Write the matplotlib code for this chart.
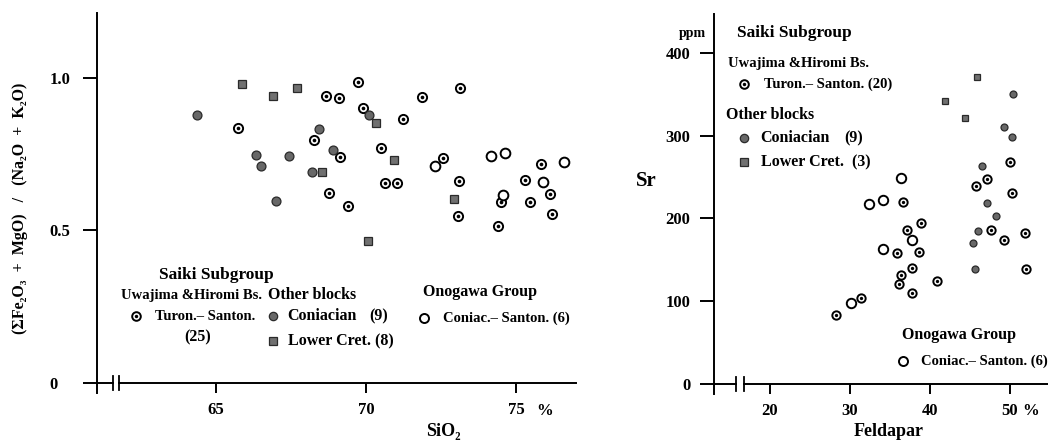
import matplotlib
matplotlib.use("Agg")
import matplotlib.pyplot as plt

plt.rcParams['font.family'] = ['Liberation Serif', 'DejaVu Serif']
plt.rcParams['font.weight'] = 'bold'

# ---- left diagram: SiO2 vs (FeO*+MgO)/(Na2O+K2O)
turon_sio2 = [65.74, 68.27, 68.67, 69.10, 69.74, 69.91, 69.13, 68.77, 69.41, 71.24,
              70.49, 70.63, 71.04, 71.86, 73.13, 72.56, 73.11, 73.06, 74.49, 74.41,
              75.30, 75.47, 75.82, 76.13, 76.19]
turon_ratio = [0.837, 0.797, 0.942, 0.934, 0.987, 0.903, 0.742, 0.623, 0.579, 0.866,
               0.769, 0.655, 0.655, 0.936, 0.968, 0.736, 0.661, 0.548, 0.592, 0.515,
               0.664, 0.594, 0.719, 0.620, 0.554]
coni_sio2 = [64.36, 66.32, 66.50, 67.44, 67.00, 68.44, 68.21, 68.89, 70.10]
coni_ratio = [0.878, 0.748, 0.713, 0.744, 0.598, 0.833, 0.691, 0.764, 0.879]
lower_sio2 = [65.88, 66.89, 67.69, 70.32, 68.52, 70.93, 72.94, 70.06]
lower_ratio = [0.979, 0.942, 0.966, 0.851, 0.691, 0.730, 0.602, 0.467]
onog_sio2 = [72.29, 74.16, 74.63, 74.56, 76.60, 75.91]
onog_ratio = [0.711, 0.744, 0.753, 0.615, 0.723, 0.658]

# ---- right diagram: Feldspar vs Sr
turon_fel = [50.0, 47.08, 45.71, 50.21, 47.67, 49.25, 51.88, 52.04, 36.63, 38.83,
             37.17, 38.67, 35.92, 37.79, 36.33, 36.08, 37.75, 40.92, 31.42, 28.21]
turon_sr = [268.7, 248.0, 238.8, 230.4, 186.1, 174.0, 182.0, 139.4, 219.9, 195.0,
            186.1, 159.5, 157.9, 140.6, 132.1, 120.8, 109.6, 124.8, 104.3, 83.8]
coni_fel = [50.33, 49.25, 50.29, 46.54, 47.08, 48.29, 46.00, 45.33, 45.63]
coni_sr = [350.5, 311.0, 298.0, 263.4, 219.0, 203.0, 185.3, 170.0, 138.6]
lower_fel = [45.92, 41.83, 44.38]
lower_sr = [371.4, 341.6, 321.5]
onog_fel = [36.33, 34.17, 32.38, 37.71, 34.13, 30.17]
onog_sr = [249.3, 222.7, 217.5, 174.0, 162.8, 97.5]

W, H = 1048, 442
fig = plt.figure(figsize=(W / 100, H / 100), dpi=100)


def fpos(x, y):
    return x / W, 1 - y / H


def ftext(x, y, s, size=11.5, ha='left', **kw):
    fx, fy = fpos(x, y)
    fig.text(fx, fy, s, fontsize=size, ha=ha, va='center', **kw)


def turon(ax, x, y, ms, **kw):
    ax.plot(x, y, 'o', ms=ms, mfc='white', mec='black', mew=1.4, ls='none', **kw)
    ax.plot(x, y, 'o', ms=ms * 0.4, mfc='black', mec='black', mew=0, ls='none', **kw)


def coni(ax, x, y, ms, **kw):
    ax.plot(x, y, 'o', ms=ms, mfc='#686868', mec='#2a2a2a', mew=0.9, ls='none', **kw)


def lower(ax, x, y, ms, **kw):
    ax.plot(x, y, 's', ms=ms, mfc='#707070', mec='#2a2a2a', mew=0.9, ls='none', **kw)


def onog(ax, x, y, ms, **kw):
    ax.plot(x, y, 'o', ms=ms, mfc='white', mec='black', mew=1.4, ls='none', **kw)


def setup(ax, xlim, ylim, brk, xticks, yticks, ylabels, ypad):
    ax.set_xlim(*xlim)
    ax.set_ylim(*ylim)
    for s in ['top', 'right']:
        ax.spines[s].set_visible(False)
    ax.spines['left'].set_linewidth(1.4)
    ax.spines['bottom'].set_linewidth(1.4)
    ax.spines['bottom'].set_position(('data', 0))
    ax.spines['bottom'].set_bounds(brk[1], xlim[1])
    ax.plot([xlim[0], brk[0]], [0, 0], color='black', lw=1.4, clip_on=False)
    h = (ylim[1] - ylim[0]) * 0.018
    for b in brk:
        ax.plot([b, b], [-h, h], color='black', lw=1.3, clip_on=False)
    ax.set_xticks(xticks)
    ax.set_yticks(yticks)
    ax.set_yticklabels(ylabels)
    ax.tick_params(axis='y', direction='out', length=10, width=1.4, pad=ypad, labelsize=12)
    ax.tick_params(axis='x', direction='out', length=7.5, width=1.4, pad=6, labelsize=12)
    ax.patch.set_visible(False)


# left axes: x 97..576 px, y 393..13 px
x0, y0 = fpos(97, 393)
x1, y1 = fpos(576, 13)
ax1 = fig.add_axes([x0, y0, x1 - x0, y1 - y0])
setup(ax1, (61.033, 77.0), (-0.0328, 1.213), (61.57, 61.77),
      [65, 70, 75], [0, 0.5, 1.0], ['0', '0.5', '1.0'], 24)
for lbl in ax1.get_yticklabels():
    lbl.set_ha('left')

turon(ax1, turon_sio2, turon_ratio, 6.6)
coni(ax1, coni_sio2, coni_ratio, 6.4)
lower(ax1, lower_sio2, lower_ratio, 6.0)
onog(ax1, onog_sio2, onog_ratio, 7.0)

# right axes: x 714..1048 px, y 394..14 px
x0, y0 = fpos(714, 394)
x1, y1 = fpos(1048, 14)
ax2 = fig.add_axes([x0, y0, x1 - x0, y1 - y0])
setup(ax2, (13.0, 54.75), (-12.08, 447.1), (15.75, 16.75),
      [20, 30, 40, 50], [0, 100, 200, 300, 400], ['0', '100', '200', '300', '400'], 7)

turon(ax2, turon_fel, turon_sr, 6.0)
coni(ax2, coni_fel, coni_sr, 5.0)
lower(ax2, lower_fel, lower_sr, 4.5)
onog(ax2, onog_fel, onog_sr, 6.8)

# axis labels
ftext(20, 208, '(ΣFe\u2082O\u2083  +  MgO)   /   (Na\u2082O  +  K\u2082O)', size=11.5, ha='center', rotation=90)
ftext(443, 431, 'SiO\u2082', size=13, ha='center')
ftext(545, 411, '%', size=12, ha='center')
ftext(889, 431, 'Feldapar', size=13, ha='center')
ftext(1031, 411, '%', size=12, ha='center')
ftext(646, 181, 'Sr', size=15, ha='center')
ftext(692, 33, 'ppm', size=10, ha='center')

# legend, left diagram
fl = dict(transform=fig.transFigure, clip_on=False)
ftext(216, 275, 'Saiki Subgroup', size=12.5, ha='center')
ftext(121, 295, 'Uwajima &Hiromi Bs.', size=10.5)
mx, my = fpos(136, 316)
turon(ax1, [mx], [my], 6.2, **fl)
ftext(155, 316, 'Turon.\u2013 Santon.', size=10.5)
ftext(198, 337, '(25)', size=11.5, ha='center')
ftext(268, 295, 'Other blocks', size=11.5)
mx, my = fpos(273, 316)
coni(ax1, [mx], [my], 6, **fl)
ftext(287, 316, 'Coniacian', size=11.5)
ftext(379, 316, '(9)', size=11.5, ha='center')
mx, my = fpos(273, 341)
lower(ax1, [mx], [my], 5.5, **fl)
ftext(288, 341, 'Lower Cret. (8)', size=11.5)
ftext(423, 292, 'Onogawa Group', size=11.5)
mx, my = fpos(424, 318)
onog(ax1, [mx], [my], 6.5, **fl)
ftext(443, 318, 'Coniac.\u2013 Santon. (6)', size=10.5)

# legend, right diagram
ftext(737, 33, 'Saiki Subgroup', size=12.5)
ftext(728, 63, 'Uwajima &Hiromi Bs.', size=10.5)
mx, my = fpos(744, 84)
turon(ax2, [mx], [my], 6.2, **fl)
ftext(764, 84, 'Turon.\u2013 Santon. (20)', size=10.5)
ftext(726, 115, 'Other blocks', size=11.5)
mx, my = fpos(744, 138)
coni(ax2, [mx], [my], 6, **fl)
ftext(760, 138, 'Coniacian', size=11.5)
ftext(854, 138, '(9)', size=11.5, ha='center')
mx, my = fpos(744, 162)
lower(ax2, [mx], [my], 5.5, **fl)
ftext(761, 162, 'Lower Cret.  (3)', size=11.5)
ftext(902, 335, 'Onogawa Group', size=11.5)
mx, my = fpos(903, 361)
onog(ax2, [mx], [my], 6.5, **fl)
ftext(921, 361, 'Coniac.\u2013 Santon. (6)', size=10.5)

plt.savefig("out.png", dpi=100)
